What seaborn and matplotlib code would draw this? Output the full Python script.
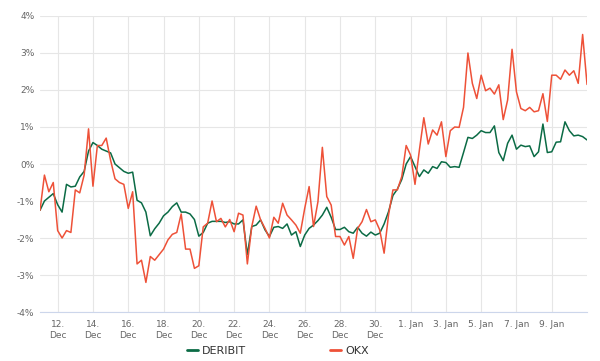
import pandas as pd
import matplotlib.pyplot as plt
import seaborn as sns

# funding / basis values in %, one reading every 6 hours from 11 Dec
deribit = [-1.25, -1.0, -0.9, -0.8, -1.1, -1.3, -0.55, -0.62, -0.6, -0.35,
           -0.2, 0.35, 0.58, 0.5, 0.4, 0.35, 0.3, 0.0, -0.1, -0.2,
           -0.25, -0.22, -0.98, -1.05, -1.3, -1.94, -1.75, -1.6, -1.4, -1.3,
           -1.15, -1.05, -1.3, -1.3, -1.35, -1.5, -1.95, -1.85, -1.6, -1.55,
           -1.55, -1.55, -1.58, -1.56, -1.62, -1.62, -1.51, -2.45, -1.69, -1.65,
           -1.51, -1.78, -1.96, -1.71, -1.69, -1.74, -1.62, -1.92, -1.83, -2.23,
           -1.92, -1.74, -1.65, -1.53, -1.38, -1.17, -1.44, -1.77, -1.77, -1.71,
           -1.83, -1.87, -1.71, -1.87, -1.95, -1.84, -1.92, -1.87, -1.62, -1.29,
           -0.85, -0.68, -0.42, 0.0, 0.2, -0.07, -0.34, -0.16, -0.25, -0.07,
           -0.12, 0.06, 0.04, -0.09, -0.07, -0.09, 0.31, 0.72, 0.69, 0.78,
           0.9, 0.85, 0.85, 1.03, 0.31, 0.09, 0.56, 0.78, 0.4, 0.51,
           0.47, 0.49, 0.2, 0.33, 1.08, 0.31, 0.33, 0.59, 0.6, 1.14,
           0.9, 0.76, 0.78, 0.74, 0.65]

okx = [-1.25, -0.3, -0.75, -0.5, -1.8, -2.0, -1.8, -1.85, -0.7, -0.78,
       -0.3, 0.95, -0.6, 0.5, 0.5, 0.7, 0.1, -0.4, -0.5, -0.55,
       -1.2, -0.75, -2.7, -2.6, -3.2, -2.5, -2.6, -2.45, -2.3, -2.05,
       -1.9, -1.85, -1.35, -2.3, -2.3, -2.82, -2.75, -1.7, -1.6, -1.0,
       -1.56, -1.47, -1.7, -1.5, -1.83, -1.33, -1.38, -2.7, -1.69, -1.14,
       -1.51, -1.74, -2.0, -1.44, -1.6, -1.06, -1.38, -1.51, -1.65, -1.87,
       -1.2, -0.61, -1.69, -1.02, 0.45, -0.88, -1.11, -1.96, -1.96, -2.19,
       -1.96, -2.55, -1.74, -1.56, -1.23, -1.56, -1.51, -1.78, -2.41, -1.38,
       -0.7, -0.7, -0.34, 0.5, 0.24, -0.55, 0.38, 1.25, 0.54, 0.92,
       0.78, 1.14, 0.2, 0.9, 1.0, 0.99, 1.53, 3.0, 2.18, 1.77,
       2.4, 1.98, 2.05, 1.89, 2.14, 1.2, 1.73, 3.1, 1.95, 1.5,
       1.44, 1.53, 1.41, 1.44, 1.9, 1.15, 2.4, 2.4, 2.29, 2.54,
       2.4, 2.52, 2.18, 3.5, 2.15]

tick_labels = ["12.\nDec", "14.\nDec", "16.\nDec", "18.\nDec", "20.\nDec",
               "22.\nDec", "24.\nDec", "26.\nDec", "28.\nDec", "30.\nDec",
               "1. Jan", "3. Jan", "5. Jan", "7. Jan", "9. Jan"]
y_ticks = [-4, -3, -2, -1, 0, 1, 2, 3, 4]

start = "2022-12-11"
df = pd.concat([
    pd.DataFrame({"time": pd.date_range(start, periods=len(deribit), freq="6h"),
                  "value": deribit, "exchange": "DERIBIT"}),
    pd.DataFrame({"time": pd.date_range(start, periods=len(okx), freq="6h"),
                  "value": okx, "exchange": "OKX"}),
])

sns.set_style("white")
plt.rcParams["font.family"] = ["DejaVu Sans"]

fig = plt.figure(figsize=(6, 3.61), dpi=100)
ax = fig.add_axes([0.0667, 0.1357, 0.9117, 0.82])

sns.lineplot(data=df, x="time", y="value", hue="exchange",
             palette={"DERIBIT": "#0b6b45", "OKX": "#ee5138"},
             linewidth=1.1, ax=ax)

ax.set_ylim(-4, 4)
ax.set_xlim(df["time"].min(), df["time"].max())
ax.set_yticks(y_ticks)
ax.set_yticklabels([f"{v}%" for v in y_ticks])
tick_dates = pd.date_range("2022-12-12", periods=len(tick_labels), freq="2D")
ax.set_xticks(tick_dates)
ax.set_xticklabels(tick_labels)
ax.tick_params(length=0, labelsize=6.5, labelcolor="#666666")
ax.tick_params(axis="x", pad=6)
ax.tick_params(axis="y", pad=4)
ax.set_xlabel("")
ax.set_ylabel("")
ax.grid(True, color="#e6e6e6", linewidth=0.8)
for s in ["top", "right", "left"]:
    ax.spines[s].set_visible(False)
ax.spines["bottom"].set_color("#ccd6eb")
ax.spines["bottom"].set_linewidth(0.8)

sns.move_legend(ax, "center", bbox_to_anchor=(0.463, 0.027),
                bbox_transform=fig.transFigure, ncol=2, frameon=False,
                title=None, fontsize=8, handlelength=1.0, handletextpad=0.4,
                columnspacing=7.5)
for t in ax.get_legend().get_texts():
    t.set_color("#333333")
for h in ax.get_legend().get_lines():
    h.set_linewidth(2)

fig.savefig("out.png", dpi=100)
